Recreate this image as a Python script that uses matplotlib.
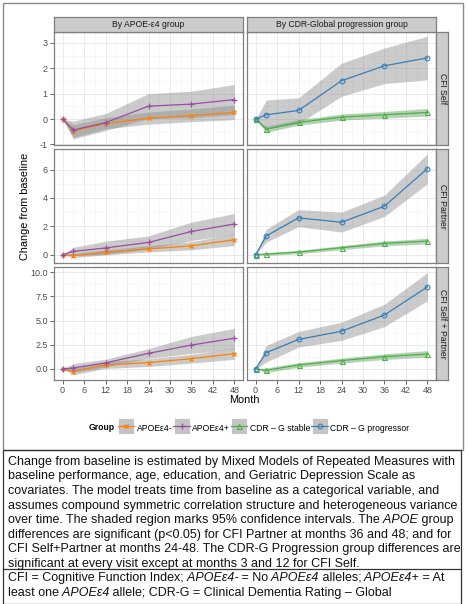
import matplotlib

matplotlib.use("Agg")
import matplotlib.pyplot as plt
from matplotlib.lines import Line2D
from matplotlib.patches import Rectangle
from matplotlib.legend_handler import HandlerTuple

plt.rcParams["font.family"] = ["Liberation Sans", "DejaVu Sans"]

# ---- data ----
MONTHS = [0, 3, 12, 24, 36, 48]
OUTCOMES = ["CFI Self", "CFI Partner", "CFI Self + Partner"]
FACETS = ["By APOE-\u03b54 group", "By CDR-Global progression group"]
GROUPS = ["APOE\u03b54-", "APOE\u03b54+", "CDR \u2013 G stable", "CDR \u2013 G progressor"]

# CFI Self
self_neg = [0, -0.47, -0.17, 0.03, 0.14, 0.26]
self_neg_lo = [0, -0.72, -0.38, -0.20, -0.10, -0.02]
self_neg_hi = [0, -0.22, 0.05, 0.28, 0.40, 0.55]
self_pos = [0, -0.43, -0.14, 0.51, 0.59, 0.77]
self_pos_lo = [0, -0.78, -0.45, 0.02, 0.05, 0.18]
self_pos_hi = [0, -0.08, 0.22, 1.00, 1.10, 1.36]
self_stable = [0, -0.40, -0.13, 0.08, 0.17, 0.26]
self_stable_lo = [0, -0.52, -0.24, -0.04, 0.04, 0.12]
self_stable_hi = [0, -0.28, -0.02, 0.20, 0.30, 0.42]
self_prog = [0, 0.17, 0.34, 1.51, 2.10, 2.41]
self_prog_lo = [0, -0.38, -0.18, 0.90, 1.40, 1.55]
self_prog_hi = [0, 0.75, 0.84, 2.20, 2.80, 3.26]

# CFI Partner
partner_neg = [0, -0.07, 0.17, 0.41, 0.63, 1.06]
partner_neg_lo = [0, -0.20, 0.00, 0.20, 0.35, 0.65]
partner_neg_hi = [0, 0.08, 0.35, 0.65, 0.92, 1.50]
partner_pos = [0, 0.24, 0.48, 0.87, 1.64, 2.17]
partner_pos_lo = [0, -0.05, 0.02, 0.40, 1.00, 1.45]
partner_pos_hi = [0, 0.53, 0.95, 1.33, 2.30, 2.90]
partner_stable = [0, 0.05, 0.19, 0.50, 0.80, 0.96]
partner_stable_lo = [0, -0.05, 0.07, 0.36, 0.63, 0.76]
partner_stable_hi = [0, 0.15, 0.31, 0.64, 0.97, 1.16]
partner_prog = [0, 1.33, 2.60, 2.29, 3.42, 6.07]
partner_prog_lo = [0, 0.90, 1.98, 1.60, 2.70, 5.00]
partner_prog_hi = [0, 1.80, 3.18, 3.00, 4.20, 7.10]

# CFI Self + Partner
both_neg = [0, -0.27, 0.41, 0.65, 1.06, 1.58]
both_neg_lo = [0, -0.60, 0.05, 0.25, 0.60, 1.00]
both_neg_hi = [0, 0.05, 0.75, 1.05, 1.50, 2.20]
both_pos = [0, 0.10, 0.62, 1.61, 2.47, 3.18]
both_pos_lo = [0, -0.35, 0.20, 1.10, 1.60, 2.10]
both_pos_hi = [0, 0.55, 1.00, 2.10, 3.36, 4.20]
both_stable = [0, -0.14, 0.41, 0.86, 1.27, 1.54]
both_stable_lo = [0, -0.38, 0.18, 0.60, 0.98, 1.20]
both_stable_hi = [0, 0.10, 0.64, 1.12, 1.56, 1.90]
both_prog = [0, 1.68, 3.05, 3.90, 5.58, 8.49]
both_prog_lo = [0, 0.72, 2.26, 2.95, 4.38, 7.05]
both_prog_hi = [0, 2.43, 3.87, 4.83, 6.70, 9.97]

# ---- styling ----
COLORS = ["#FF7F00", "#984EA3", "#4DAF4A", "#377EB8"]
MARKERS = [dict(marker="x", ms=3.3, mew=0.9),
           dict(marker="+", ms=4.8, mew=0.9),
           dict(marker="^", ms=3.6, mew=0.8, mfc="none"),
           dict(marker="o", ms=3.4, mew=0.8, mfc="none")]
RIBBON = ["#8c8c8c", "#8c8c8c", "#5a9e55", "#8c8c8c"]
STRIP = "#cccccc"
BORDER = "#7f7f7f"
TICKC = "#4d4d4d"
SMALL = 6.2

W, H = 469, 604
COLS = [(54, 243), (247, 436)]
ROWS = [(32, 145), (149, 263), (267, 380)]
YLIMS = [(-1.02, 3.43), (-0.58, 7.45), (-1.15, 10.55)]
YTICKS = [[-1, 0, 1, 2, 3], [0, 2, 4, 6], [0, 2.5, 5, 7.5, 10]]
YFMT = ["{:g}", "{:g}", "{:.1f}"]


def fbox(x0, y0, x1, y1):
    return [x0 / W, 1 - y1 / H, (x1 - x0) / W, (y1 - y0) / H]


series = [
    [[(self_neg, self_neg_lo, self_neg_hi), (self_pos, self_pos_lo, self_pos_hi)],
     [(self_stable, self_stable_lo, self_stable_hi), (self_prog, self_prog_lo, self_prog_hi)]],
    [[(partner_neg, partner_neg_lo, partner_neg_hi), (partner_pos, partner_pos_lo, partner_pos_hi)],
     [(partner_stable, partner_stable_lo, partner_stable_hi), (partner_prog, partner_prog_lo, partner_prog_hi)]],
    [[(both_neg, both_neg_lo, both_neg_hi), (both_pos, both_pos_lo, both_pos_hi)],
     [(both_stable, both_stable_lo, both_stable_hi), (both_prog, both_prog_lo, both_prog_hi)]],
]

fig = plt.figure(figsize=(W / 100, H / 100), dpi=100)


def strip(x0, y0, x1, y1, label, rot):
    sax = fig.add_axes(fbox(x0, y0, x1, y1))
    sax.set_xticks([]); sax.set_yticks([])
    sax.set_facecolor(STRIP)
    for s in sax.spines.values():
        s.set_color(BORDER); s.set_linewidth(0.9)
    sax.text(0.5, 0.5, label, ha="center", va="center", rotation=rot, fontsize=SMALL,
             color="#1a1a1a", transform=sax.transAxes)


for r, (y0, y1) in enumerate(ROWS):
    for c, (x0, x1) in enumerate(COLS):
        ax = fig.add_axes(fbox(x0, y0, x1, y1))
        for k, (mean, lo, hi) in enumerate(series[r][c]):
            g = 2 * c + k
            ax.fill_between(MONTHS, lo, hi, color=RIBBON[g], alpha=0.45, lw=0, zorder=1)
        for k, (mean, lo, hi) in enumerate(series[r][c]):
            g = 2 * c + k
            ax.plot(MONTHS, mean, color=COLORS[g], lw=0.9, zorder=3, **MARKERS[g])
        ax.set_xlim(-2.4, 50.4)
        ax.set_xticks(range(0, 49, 6))
        ax.set_xticks(range(3, 49, 6), minor=True)
        yt = YTICKS[r]
        ax.set_yticks(yt)
        ax.set_yticks([(a + b) / 2 for a, b in zip(yt[:-1], yt[1:])] + [yt[0] - (yt[1] - yt[0]) / 2],
                      minor=True)
        ax.set_ylim(*YLIMS[r])
        ax.grid(which="major", color="#e6e6e6", lw=0.6, zorder=0)
        ax.grid(which="minor", color="#f4f4f4", lw=0.5, zorder=0)
        ax.set_axisbelow(True)
        for s in ax.spines.values():
            s.set_color(BORDER)
            s.set_linewidth(0.9)
        ax.tick_params(which="minor", length=0)
        ax.tick_params(which="major", length=3, width=0.6, color=TICKC,
                       labelsize=SMALL + 0.3, labelcolor=TICKC, pad=1.5)
        if c == 0:
            ax.set_yticklabels([YFMT[r].format(v) for v in yt])
        else:
            ax.tick_params(axis="y", left=False, labelleft=False)
        if r < 2:
            ax.tick_params(axis="x", bottom=False, labelbottom=False)
        if r == 0:
            strip(x0, 17, x1, 32, FACETS[c], 0)
    strip(436, y0, 448, y1, OUTCOMES[r], 270)

fig.text(25 / W, 1 - 206 / H, "Change from baseline", rotation=90, ha="center", va="center",
         fontsize=7.8)
fig.text(244 / W, 1 - 400 / H, "Month", ha="center", va="center", fontsize=7.8)

# legend: grey key square with the group's line drawn over it
fig.text(89 / W, 1 - 428 / H, "Group", ha="left", va="center", fontsize=SMALL, weight="bold")
handles = []
for g in range(4):
    key = Line2D([], [], ls="none", marker="s", ms=11.5, mfc="#c4c4c4", mec="white", mew=0.6)
    ln = Line2D([], [], color=COLORS[g], lw=0.9, **MARKERS[g])
    handles.append((key, ln))
fig.legend(handles, GROUPS, handler_map={tuple: HandlerTuple(ndivide=1, pad=0)},
           loc="center left", bbox_to_anchor=(118 / W, 1 - 428 / H), ncol=4, frameon=False,
           fontsize=SMALL, handlelength=1.9, handleheight=1.9, handletextpad=0.25,
           columnspacing=0.15, borderpad=0, borderaxespad=0)

# frames
fig.add_artist(Rectangle((3 / W, 1 - 450 / H), 460 / W, 447 / H, transform=fig.transFigure,
                         fill=False, ec="#8a8a8a", lw=1.0))
fig.add_artist(Rectangle((3 / W, 0), 458 / W, 1 - 450 / H, transform=fig.transFigure,
                         fill=False, ec="#333333", lw=0.9))
fig.add_artist(Line2D([3 / W, 461 / W], [1 - 569 / H] * 2, transform=fig.transFigure,
                      color="#333333", lw=0.9))

# caption text with italic runs (spaces always lead a run)
CAP_SIZE = 9.0
renderer = fig.canvas.get_renderer()


def rich_line(x_px, y_px, segments):
    x = x_px
    for s, it in segments:
        t = fig.text(x / W, 1 - y_px / H, s, fontsize=CAP_SIZE, ha="left", va="center",
                     style="italic" if it else "normal", color="#111111")
        x = t.get_window_extent(renderer).x1


CAPTION = [
    [("Change from baseline is estimated by Mixed Models of Repeated Measures with", 0)],
    [("baseline performance, age, education, and Geriatric Depression Scale as", 0)],
    [("covariates. The model treats time from baseline as a categorical variable, and", 0)],
    [("assumes compound symmetric correlation structure and heterogeneous variance", 0)],
    [("over time. The shaded region marks 95% confidence intervals. The", 0), (" APOE", 1),
     (" group", 0)],
    [("differences are significant (p<0.05) for CFI Partner at months 36 and 48; and for", 0)],
    [("CFI Self+Partner at months 24-48. The CDR-G Progression group differences are", 0)],
    [("significant at every visit except at months 3 and 12 for CFI Self.", 0)],
]
FOOTER = [
    [("CFI = Cognitive Function Index;", 0), (" APOE\u03b54-", 1), (" = No", 0),
     (" APOE\u03b54", 1), (" alleles;", 0), (" APOE\u03b54+", 1), (" = At", 0)],
    [("least one", 0), (" APOE\u03b54", 1), (" allele; CDR-G = Clinical Dementia Rating \u2013 Global", 0)],
]
for i, segs in enumerate(CAPTION):
    rich_line(8, 461.7 + i * 14.6, segs)
for i, segs in enumerate(FOOTER):
    rich_line(8, 578 + i * 14.6, segs)

fig.savefig("out.png", dpi=100, facecolor="white")
